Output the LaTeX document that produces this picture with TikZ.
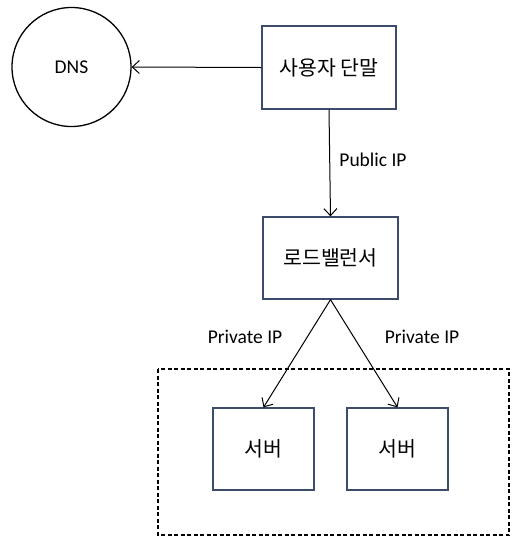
\documentclass[tikz,border=0pt]{standalone}
\usepackage{fontspec}
\setmainfont{Carlito}
\newfontfamily\kr{Noto Sans CJK KR}
\usetikzlibrary{arrows.meta}
\definecolor{boxedge}{RGB}{62,76,108}
\tikzset{
  box/.style={draw=boxedge, line width=1.3pt, fill=white, inner sep=0pt},
  conn/.style={draw=black, line width=1pt, -{Straight Barb[length=7pt,width=13pt,line width=1pt]}},
  lbl/.style={font=\fontsize{19.5}{21}\selectfont, inner sep=0pt},
  krtxt/.style={font=\kr\fontsize{20.5}{22}\selectfont}
}
\begin{document}
\begin{tikzpicture}[x=1pt,y=-1pt]
\useasboundingbox (0,0) rectangle (526,547);
% dashed region
\draw[dashed, line width=1.2pt, dash pattern=on 4pt off 2.5pt] (158,369) rectangle (509,535);
% nodes
\node[draw=black, line width=1.3pt, circle, minimum size=119pt, inner sep=0pt, lbl] (dns) at (71.5,67) {DNS};
\node[box, krtxt, minimum width=134pt, minimum height=83pt] (user) at (329,67.5) {사용자 단말};
\node[box, krtxt, minimum width=135pt, minimum height=82pt] (lb) at (330.5,258) {로드밸런서};
\node[box, krtxt, minimum width=101pt, minimum height=82pt] (s1) at (263.5,449) {서버};
\node[box, krtxt, minimum width=101pt, minimum height=82pt] (s2) at (397.5,449) {서버};
% connectors
\draw[conn] (user.west) -- (dns.east);
\draw[conn] (user.south) -- (lb.north);
\draw[conn] (lb.south) -- (s1.north);
\draw[conn] (lb.south) -- (s2.north);
% labels
\node[lbl] (pub) at (373,160) {Public IP};
\node[lbl] (priv1) at (245,337) {Private IP};
\node[lbl] (priv2) at (422,337) {Private IP};
\end{tikzpicture}
\end{document}
